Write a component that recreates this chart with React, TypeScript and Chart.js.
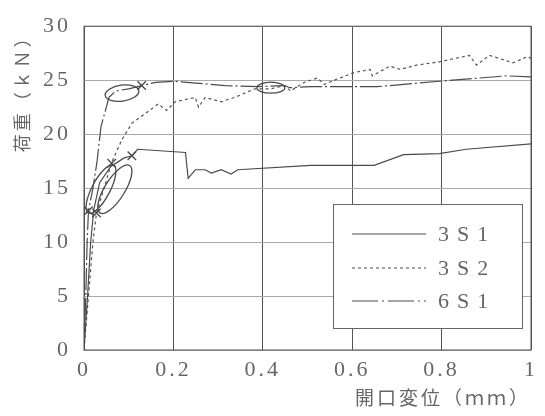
import React, { useEffect, useRef } from "react";
import { Chart, registerables } from "chart.js";

Chart.register(...registerables);

// ---- data ----
const xTicks = [0, 0.2, 0.4, 0.6, 0.8, 1];
const yTicks = [0, 5, 10, 15, 20, 25, 30];
const seriesNames = ["3S1", "3S2", "6S1"];

const s3S1 = [
  [0, 0], [0.008, 5], [0.015, 10], [0.022, 13], [0.035, 15.5], [0.06, 17], [0.09, 17.8],
  [0.107, 18.0], [0.12, 18.6], [0.227, 18.3], [0.233, 15.9], [0.249, 16.7], [0.271, 16.7],
  [0.285, 16.4], [0.307, 16.7], [0.329, 16.3], [0.344, 16.7], [0.507, 17.1], [0.649, 17.1],
  [0.715, 18.1], [0.795, 18.2], [0.855, 18.6], [1.0, 19.1],
];
const s3S2 = [
  [0, 0], [0.01, 5], [0.02, 10], [0.028, 12.7], [0.045, 15], [0.062, 17.4], [0.085, 19.5],
  [0.107, 21], [0.137, 21.9], [0.166, 22.8], [0.185, 22.2], [0.204, 23], [0.249, 23.4],
  [0.256, 22.5], [0.271, 23.4], [0.307, 23], [0.337, 23.4], [0.382, 24.2], [0.418, 24.2],
  [0.449, 24.5], [0.462, 24.0], [0.493, 24.8], [0.522, 25.2], [0.538, 24.6], [0.56, 25.0],
  [0.604, 25.7], [0.64, 26.0], [0.645, 25.4], [0.684, 26.3], [0.707, 26], [0.744, 26.4],
  [0.795, 26.7], [0.862, 27.3], [0.878, 26.4], [0.907, 27.3], [0.96, 26.6], [0.993, 27.2],
  [1.0, 27.0],
];
const s6S1 = [
  [0, 0], [0.004, 5], [0.007, 10], [0.01, 12.9], [0.02, 15], [0.029, 17.4], [0.038, 20.7],
  [0.056, 23.4], [0.071, 24.0], [0.1, 24.2], [0.129, 24.5], [0.16, 24.8], [0.2, 24.9],
  [0.316, 24.5], [0.389, 24.4], [0.449, 24.5], [0.46, 24.3], [0.507, 24.4], [0.656, 24.4],
  [0.795, 24.9], [0.945, 25.4], [1.0, 25.3],
];
// cross (×) markers
const crossMarks = [
  [0.107, 18.0], [0.129, 24.5], [0.01, 12.9], [0.028, 12.7], [0.062, 17.3],
];
// hand-drawn ellipse annotations: centre in data units
const ellipseCentres = [
  [0.085, 23.8], [0.418, 24.3], [0.038, 14.9], [0.069, 14.9],
];
// ellipse shapes (pixels / degrees)
const ellipseShapes = [
  { rx: 17, ry: 8, rot: -8 },
  { rx: 14, ry: 5.5, rot: 0 },
  { rx: 27, ry: 9, rot: -62 },
  { rx: 28, ry: 10, rot: -58 },
];

const INK = "#4a4a4a";
const TXT = "#666";
const SPACING = "3px";
const dashes: number[][] = [[], [3, 3], [22, 3, 2, 3]];

const toPts = (a: number[][]) => a.map(([x, y]) => ({ x, y }));

const framePlugin = {
  id: "frameAndLegend",
  beforeUpdate(chart: any) {
    chart.ctx.letterSpacing = SPACING;
  },
  beforeDraw(chart: any) {
    chart.ctx.letterSpacing = SPACING;
  },
  beforeDatasetsDraw(chart: any) {
    const { ctx, chartArea: a } = chart;
    ctx.save();
    ctx.strokeStyle = "#555";
    ctx.lineWidth = 1;
    ctx.strokeRect(a.left, a.top, a.right - a.left, a.bottom - a.top);
    ctx.restore();
  },
  afterDatasetsDraw(chart: any) {
    const { ctx, scales } = chart;
    const xs = scales.x, ys = scales.y;
    // ellipses
    ctx.save();
    ctx.strokeStyle = INK;
    ctx.lineWidth = 1.3;
    ellipseCentres.forEach(([cx, cy], i) => {
      const s = ellipseShapes[i];
      ctx.beginPath();
      ctx.ellipse(xs.getPixelForValue(cx), ys.getPixelForValue(cy), s.rx, s.ry, (s.rot * Math.PI) / 180, 0, Math.PI * 2);
      ctx.stroke();
    });
    ctx.restore();
    // legend box
    const L = 333, T = 204, R = 522, B = 328;
    ctx.save();
    ctx.fillStyle = "#fff";
    ctx.fillRect(L, T, R - L, B - T);
    ctx.strokeStyle = "#666";
    ctx.lineWidth = 1;
    ctx.strokeRect(L + 0.5, T + 0.5, R - L, B - T);
    const rows = [234, 268, 301];
    seriesNames.forEach((name, i) => {
      ctx.strokeStyle = INK;
      ctx.lineWidth = 1.1;
      ctx.setLineDash(i === 2 ? [26, 4, 2, 4] : dashes[i]);
      ctx.beginPath();
      ctx.moveTo(352, rows[i]);
      ctx.lineTo(426, rows[i]);
      ctx.stroke();
      ctx.setLineDash([]);
      ctx.fillStyle = TXT;
      ctx.font = '22px "Liberation Serif", serif';
      ctx.letterSpacing = "8px";
      ctx.textBaseline = "middle";
      ctx.textAlign = "left";
      ctx.fillText(name, 438, rows[i] + 1);
    });
    ctx.restore();
  },
};

export default function App() {
  const ref = useRef<HTMLCanvasElement>(null);
  useEffect(() => {
    document.body.style.margin = "0";
    const canvas = ref.current!;
    const chart = new Chart(canvas, {
      type: "line",
      data: {
        datasets: [
          ...[s3S1, s3S2, s6S1].map((s, i) => ({
            label: seriesNames[i],
            data: toPts(s),
            borderColor: i === 1 ? "#555" : INK,
            borderWidth: 1.2,
            borderDash: dashes[i],
            pointRadius: 0,
            fill: false,
            tension: 0,
          })),
          {
            label: "marks",
            data: toPts(crossMarks),
            showLine: false,
            pointStyle: "crossRot",
            pointRadius: 6,
            pointBorderColor: INK,
            pointBorderWidth: 1.3,
          } as any,
        ],
      },
      options: {
        animation: false,
        responsive: false,
        maintainAspectRatio: false,
        layout: { padding: { top: 17, right: 10, left: 0, bottom: 0 } },
        plugins: { legend: { display: false }, tooltip: { enabled: false } },
        scales: {
          x: {
            type: "linear",
            min: 0,
            max: 1,
            afterBuildTicks: (s: any) => { s.ticks = xTicks.map((v) => ({ value: v })); },
            afterFit: (s: any) => { s.height = 66; },
            ticks: {
              color: TXT,
              padding: 7,
              font: { family: '"Liberation Serif", serif', size: 22 },
              callback: (v: any) => String(Number(v)),
              maxRotation: 0,
            },
            grid: { color: "#555", lineWidth: 1, drawTicks: false },
            border: { display: false },
            title: {
              display: true,
              text: "開口変位（ｍｍ）",
              align: "end",
              color: TXT,
              font: { family: '"Noto Sans CJK JP", sans-serif', size: 19 },
              padding: { top: 0, bottom: 7 },
            },
          },
          y: {
            type: "linear",
            min: 0,
            max: 30,
            afterBuildTicks: (s: any) => { s.ticks = yTicks.map((v) => ({ value: v })); },
            afterFit: (s: any) => { s.width = 84; },
            ticks: {
              color: TXT,
              padding: 13,
              font: { family: '"Liberation Serif", serif', size: 22 },
            },
            grid: { color: "#aaa", lineWidth: 1, drawTicks: false },
            border: { display: false },
            title: {
              display: true,
              text: "荷重（ｋＮ）",
              align: "end",
              color: TXT,
              font: { family: '"Noto Sans CJK JP", sans-serif', size: 18 },
              padding: { top: 11, bottom: 0 },
            },
          },
        },
      },
      plugins: [framePlugin],
    } as any);
    return () => chart.destroy();
  }, []);
  return <canvas ref={ref} width={545} height={416} style={{ display: "block" }} />;
}
